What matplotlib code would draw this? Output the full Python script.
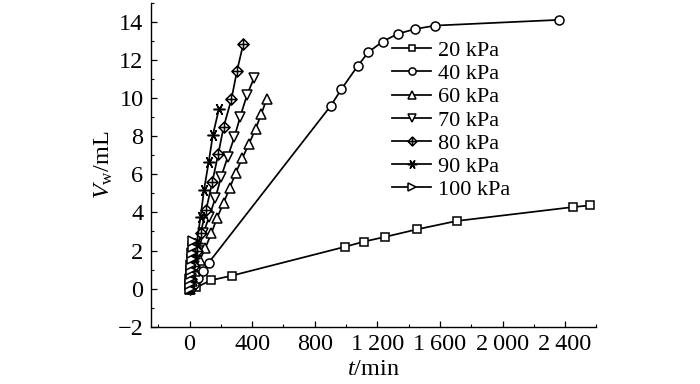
import matplotlib
matplotlib.use("Agg")
import matplotlib.pyplot as plt
from matplotlib.path import Path
from matplotlib.ticker import MultipleLocator, FixedLocator

plt.rcParams['font.family'] = ['Liberation Serif', 'DejaVu Serif']
plt.rcParams['mathtext.fontset'] = 'custom'
plt.rcParams['mathtext.rm'] = 'Liberation Serif'
plt.rcParams['mathtext.it'] = 'Liberation Serif:italic'

# ---- data (t in min, Vw in mL) ----
labels = ['20 kPa', '40 kPa', '60 kPa', '70 kPa', '80 kPa', '90 kPa', '100 kPa']

t20 = [0, 42, 137, 274, 995, 1115, 1247, 1453, 1707, 2451, 2561]
v20 = [0, 0.07, 0.44, 0.69, 2.2, 2.47, 2.71, 3.11, 3.55, 4.28, 4.37]

t40 = [0, 25, 55, 87, 122, 903, 969, 1074, 1142, 1233, 1332, 1442, 1570, 2363]
v40 = [0, 0.25, 0.55, 0.94, 1.36, 9.6, 10.45, 11.68, 12.4, 12.96, 13.37, 13.62, 13.8, 14.1]

t60 = [0, 15, 35, 65, 100, 139, 175, 217, 256, 294, 337, 380, 422, 459, 493]
v60 = [0, 0.4, 0.9, 1.5, 2.12, 2.9, 3.7, 4.5, 5.27, 6.06, 6.85, 7.6, 8.39, 9.18, 9.97]

t70 = [0, 12, 30, 55, 88, 125, 165, 202, 244, 286, 324, 366, 412]
v70 = [0, 0.5, 1.2, 2.0, 2.9, 3.78, 4.76, 5.88, 6.92, 7.95, 9.03, 10.14, 11.06]

t80 = [0, 10, 25, 45, 70, 105, 145, 183, 218, 267, 303, 343]
v80 = [0, 0.5, 1.2, 2.0, 2.9, 4.12, 5.6, 7.06, 8.5, 9.93, 11.43, 12.83]

t90 = [0, 8, 18, 30, 45, 70, 92, 122, 149, 188]
v90 = [0, 0.4, 0.9, 1.6, 2.4, 3.75, 5.19, 6.64, 8.08, 9.44]

t100 = [0, 2, 4, 6, 8, 10, 13, 16, 20, 24]
v100 = [0, 0.25, 0.5, 0.75, 1.0, 1.25, 1.55, 1.85, 2.2, 2.5]

xticks = [0, 400, 800, 1200, 1600, 2000, 2400]
xticklabels = ['0', '400', '800', '1\u2009200', '1\u2009600', '2\u2009000', '2\u2009400']
yticks = [-2, 0, 2, 4, 6, 8, 10, 12, 14]

# diamond with cross marker
diam_cross = Path(
    [(0, 1), (1, 0), (0, -1), (-1, 0), (0, 1),
     (0, 1), (0, -1), (-1, 0), (1, 0)],
    [Path.MOVETO, Path.LINETO, Path.LINETO, Path.LINETO, Path.CLOSEPOLY,
     Path.MOVETO, Path.LINETO, Path.MOVETO, Path.LINETO])

markers = ['s', 'o', '^', 'v', diam_cross, (6, 2, 90), '>']
sizes = [6, 6.5, 7, 7, 8, 8.5, 6.5]
series = [(t20, v20), (t40, v40), (t60, v60), (t70, v70),
          (t80, v80), (t90, v90), (t100, v100)]

fig = plt.figure(figsize=(7.0, 3.84), dpi=100)
ax = fig.add_axes([0.215, 0.149, 0.637, 0.844])

for (t, v), m, ms, lab in zip(series, markers, sizes, labels):
    ax.plot(t, v, color='black', lw=1.25, marker=m, ms=ms,
            mfc='white', mec='black', mew=1.1, label=lab)

ax.set_xlim(-250, 2600)
ax.set_ylim(-2, 15)
ax.xaxis.set_major_locator(FixedLocator(xticks))
ax.set_xticklabels(xticklabels)
ax.xaxis.set_minor_locator(MultipleLocator(200))
ax.yaxis.set_major_locator(FixedLocator(yticks))
ax.yaxis.set_minor_locator(MultipleLocator(1))

for s in ['top', 'right']:
    ax.spines[s].set_visible(False)
for s in ['left', 'bottom']:
    ax.spines[s].set_linewidth(1.0)

ax.tick_params(which='major', direction='in', length=4, width=0.9,
               labelsize=17.5, pad=5)
ax.tick_params(which='minor', direction='in', length=2.2, width=0.8)

ax.set_xlabel(r'$t$/min', fontsize=17.5, labelpad=3)
ax.set_ylabel(r'$V_\mathrm{w}$/mL', fontsize=17.5, labelpad=2)

leg = ax.legend(loc='upper left', bbox_to_anchor=(0.542, 0.884),
                frameon=False, fontsize=16, handlelength=1.75,
                handletextpad=0.3, labelspacing=0.12, borderpad=0,
                borderaxespad=0, markerscale=0.8)

fig.savefig('out.png', dpi=100)
